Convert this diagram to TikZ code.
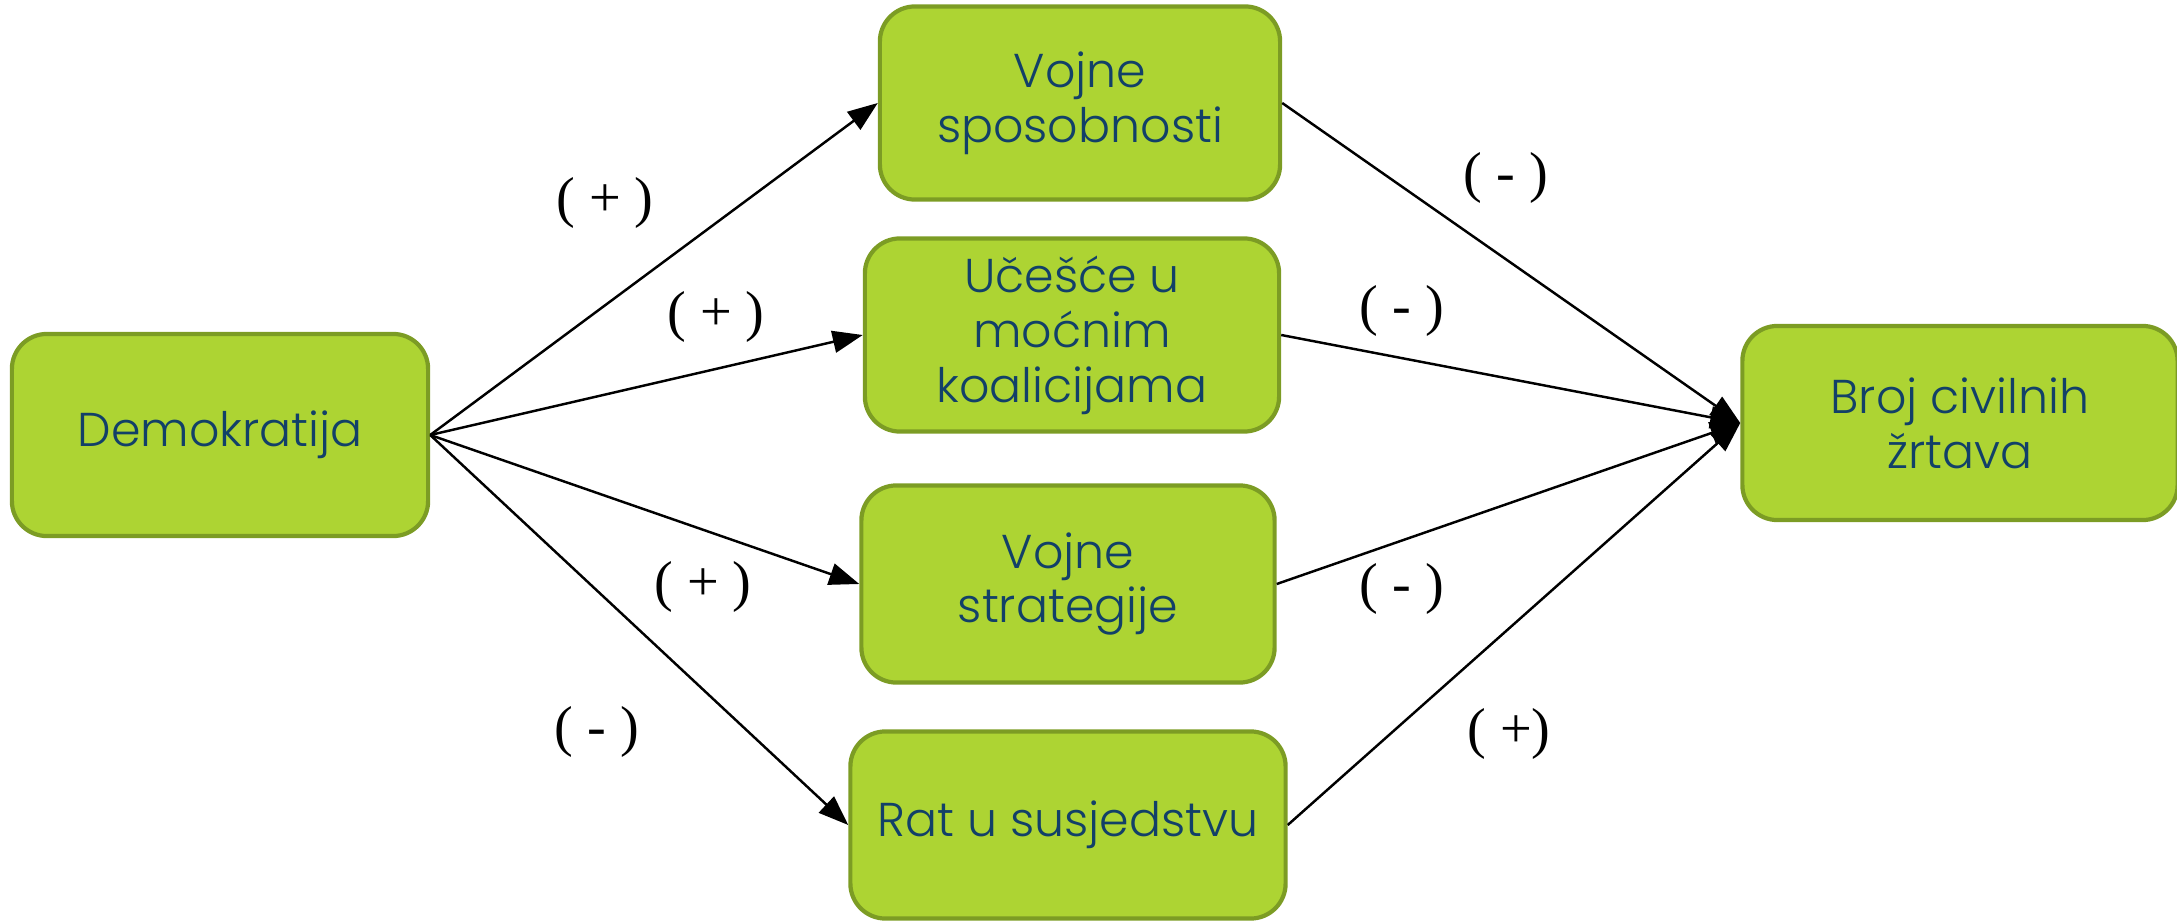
\documentclass[tikz,border=0pt]{standalone}
\usepackage{fontspec}
\setmainfont{Poppins Light}
\newfontfamily\signfont{Liberation Serif}
\usetikzlibrary{arrows.meta}
\definecolor{boxfill}{RGB}{173,212,51}
\definecolor{boxline}{RGB}{124,156,36}
\definecolor{boxtext}{RGB}{18,64,104}
\begin{document}
\begin{tikzpicture}[x=0.01cm,y=-0.01cm,
  box/.style={draw=boxline,fill=boxfill,line width=1.2pt,rounded corners=0.35cm,
    text=boxtext,align=center,inner sep=0pt,font=\fontsize{13.5}{15.6}\selectfont},
  sign/.style={font=\signfont\fontsize{16}{17}\selectfont},
  conn/.style={-{Triangle[length=0.3cm,width=0.22cm]},line width=0.7pt}]
  \useasboundingbox (0,0) rectangle (2177,921);
  \node[box,minimum width=4.16cm,minimum height=2.02cm] (dem) at (220,435) {Demokratija};
  \node[box,minimum width=4.0cm,minimum height=1.93cm] (vs) at (1080,103) {Vojne\\sposobnosti};
  \node[box,minimum width=4.14cm,minimum height=1.93cm] (uc) at (1072,335) {Učešće u\\moćnim\\koalicijama};
  \node[box,minimum width=4.13cm,minimum height=1.97cm] (vst) at (1068,584) {Vojne\\strategije};
  \node[box,minimum width=4.35cm,minimum height=1.87cm] (rat) at (1068,825) {Rat u susjedstvu};
  \node[box,minimum width=4.35cm,minimum height=1.94cm] (broj) at (1960,423) {Broj civilnih\\žrtava};
  \foreach \m in {vs, uc, vst, rat} {
    \draw[conn] (dem.east) -- (\m.west);
    \draw[conn] (\m.east) -- (broj.west);
  }
  \node[sign] (l1) at (605,203) {( + )};
  \node[sign] (l2) at (716,317) {( + )};
  \node[sign] (l3) at (703,587) {( + )};
  \node[sign] (l4) at (597,732) {( - )};
  \node[sign] (r1) at (1506,178) {( - )};
  \node[sign] (r2) at (1402,311) {( - )};
  \node[sign] (r3) at (1402,589) {( - )};
  \node[sign] (r4) at (1509,734) {( +)};
\end{tikzpicture}
\end{document}
